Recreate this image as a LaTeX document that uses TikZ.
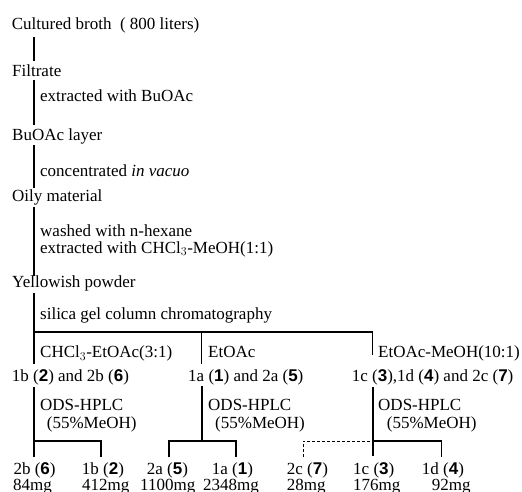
\documentclass[tikz,border=0pt]{standalone}
\usepackage{fontspec}
\setmainfont{Liberation Serif}
\newfontfamily\numfont{Liberation Sans}
\newcommand\cpd[1]{{\numfont\bfseries #1}}
\begin{document}
\begin{tikzpicture}[x=1pt,y=-1pt,
  lbl/.style={anchor=base west, inner sep=0pt, font=\fontsize{17}{17}\selectfont},
  ln/.style={line width=1.7pt},
  thin ln/.style={line width=1.2pt},
  dash ln/.style={line width=1pt, dash pattern=on 3pt off 2pt}]
\useasboundingbox (0,0) rectangle (522,491);
% main column texts
\node[lbl] (broth) at (11.7,29) {Cultured broth \ ( 800 liters)};
\node[lbl] (filt) at (12,76) {Filtrate};
\node[lbl] (s1) at (40,101) {extracted with BuOAc};
\node[lbl] (buoac) at (12,140.5) {BuOAc layer};
\node[lbl] (s2) at (40,176.5) {concentrated \textit{in vacuo}};
\node[lbl] (oily) at (12,201) {Oily material};
\node[lbl] (s3a) at (40,236.5) {washed with n-hexane};
\node[lbl] (s3b) at (40,253) {extracted with CHCl$_3$-MeOH(1:1)};
\node[lbl] (yell) at (12,287) {Yellowish powder};
\node[lbl] (s4) at (40,319) {silica gel column chromatography};
% fractions
\node[lbl] (fA) at (40,357.5) {CHCl$_3$-EtOAc(3:1)};
\node[lbl] (fB) at (208,357.5) {EtOAc};
\node[lbl] (fC) at (378,357.5) {EtOAc-MeOH(10:1)};
\node[lbl] (cA) at (11.7,381) {1b (\cpd{2}) and 2b (\cpd{6})};
\node[lbl] (cB) at (188,381) {1a (\cpd{1}) and 2a (\cpd{5})};
\node[lbl] (cC) at (351.7,381) {1c (\cpd{3}),1d (\cpd{4}) and 2c (\cpd{7})};
% HPLC labels
\node[lbl] (hA) at (40,410) {ODS-HPLC};
\node[lbl] (mA) at (46.7,428) {(55\%MeOH)};
\node[lbl] (hB) at (208,410) {ODS-HPLC};
\node[lbl] (mB) at (215,428) {(55\%MeOH)};
\node[lbl] (hC) at (378,410) {ODS-HPLC};
\node[lbl] (mC) at (386.7,428) {(55\%MeOH)};
% products
\node[lbl] (p1) at (13.3,474) {2b (\cpd{6})};
\node[lbl] (q1) at (13,490) {84mg};
\node[lbl] (p2) at (81.7,474) {1b (\cpd{2})};
\node[lbl] (q2) at (82,490) {412mg};
\node[lbl] (p3) at (146.7,474) {2a (\cpd{5})};
\node[lbl] (q3) at (140,490) {1100mg};
\node[lbl] (p4) at (211.7,474) {1a (\cpd{1})};
\node[lbl] (q4) at (203,490) {2348mg};
\node[lbl] (p5) at (286.7,474) {2c (\cpd{7})};
\node[lbl] (q5) at (286.7,490) {28mg};
\node[lbl] (p6) at (353,474) {1c (\cpd{3})};
\node[lbl] (q6) at (353,490) {176mg};
\node[lbl] (p7) at (421.7,474) {1d (\cpd{4})};
\node[lbl] (q7) at (431.7,490) {92mg};
% coordinates of line ends
\coordinate (a0) at (34.3,37);   \coordinate (a1) at (34.3,61);
\coordinate (b0) at (34.3,80);   \coordinate (b1) at (34.3,125);
\coordinate (c0) at (34.3,145);  \coordinate (c1) at (34.3,188);
\coordinate (d0) at (34.3,207);  \coordinate (d1) at (34.3,276);
\coordinate (e0) at (34.3,293);  \coordinate (eJ) at (34.3,332);
\coordinate (e1) at (34.3,364);
\coordinate (mJ) at (201.7,332); \coordinate (m1) at (201.7,364);
\coordinate (rJ) at (372.7,332); \coordinate (r1) at (372.7,355);
% lower branches
\coordinate (L0) at (34.3,387);  \coordinate (LJ) at (34.3,441); \coordinate (L1) at (34.3,457);
\coordinate (LR) at (101,441);   \coordinate (LR1) at (101,457);
\coordinate (M0) at (201.7,386); \coordinate (MJ) at (201.7,441);
\coordinate (ML) at (169,441);   \coordinate (ML1) at (169,457);
\coordinate (MR) at (236,441);   \coordinate (MR1) at (236,457);
\coordinate (R0) at (372.7,387); \coordinate (RJ) at (372.7,441); \coordinate (R1) at (372.7,456);
\coordinate (RL) at (303,441);   \coordinate (RL1) at (303,457);
\coordinate (RR) at (441.7,441); \coordinate (RR1) at (441.7,457);
% connectors
\draw[ln] (a0) -- (a1);
\draw[ln] (b0) -- (b1);
\draw[ln] (c0) -- (c1);
\draw[ln] (d0) -- (d1);
\draw[ln] (e0) -- (e1);
\draw[thin ln] (eJ) -- (rJ) -- (r1);
\draw[thin ln] (mJ) -- (m1);
\draw[ln] (L0) -- (L1);
\draw[thin ln] (LJ) -- (LR) -- (LR1);
\draw[ln] (M0) -- (MJ);
\draw[thin ln] (ML1) -- (ML) -- (MR) -- (MR1);
\draw[ln] (R0) -- (R1);
\draw[thin ln] (RJ) -- (RR) -- (RR1);
\draw[dash ln] (RL1) -- (RL) -- (RJ);
\end{tikzpicture}
\end{document}
